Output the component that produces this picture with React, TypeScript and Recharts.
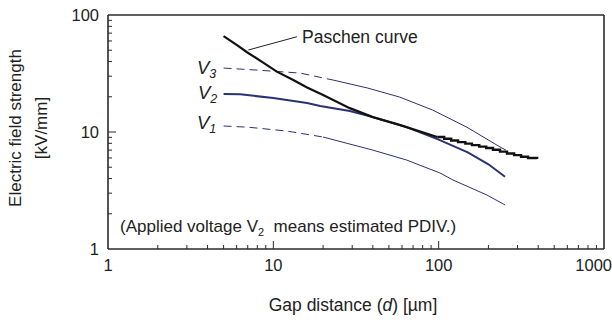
import { LineChart, Line, XAxis, YAxis, ReferenceLine } from "recharts";

// gap distance d [um] vs electric field strength E [kV/mm]
const paschen = [
  { d: 5, e: 66 },
  { d: 6, e: 55.5 },
  { d: 6.9, e: 48.3 },
  { d: 8.5, e: 40 },
  { d: 10.5, e: 32.8 },
  { d: 13.2, e: 27.8 },
  { d: 16, e: 24 },
  { d: 20, e: 20.7 },
  { d: 29, e: 16 },
  { d: 40, e: 13.4 },
  { d: 58, e: 11.5 },
  { d: 98, e: 9.06 },
];
const paschenSteps = [
  { d: 98, e: 9.06 },
  { d: 108, e: 8.75 },
  { d: 119, e: 8.45 },
  { d: 131, e: 8.2 },
  { d: 145, e: 7.95 },
  { d: 159, e: 7.72 },
  { d: 176, e: 7.5 },
  { d: 194, e: 7.3 },
  { d: 213, e: 7.05 },
  { d: 235, e: 6.8 },
  { d: 259, e: 6.55 },
  { d: 286, e: 6.35 },
  { d: 315, e: 6.15 },
  { d: 347, e: 6.0 },
  { d: 394, e: 5.88 },
];

const v3Dashed = [
  { d: 5, e: 35.2 },
  { d: 8, e: 33.8 },
  { d: 14.5, e: 31.9 },
  { d: 23, e: 27.8 },
];
const v3Solid = [
  { d: 23, e: 27.8 },
  { d: 37, e: 23.8 },
  { d: 58, e: 19.9 },
  { d: 92, e: 15.4 },
  { d: 148, e: 11 },
  { d: 235, e: 7.45 },
  { d: 255, e: 7.0 },
];

const v2 = [
  { d: 5, e: 21.1 },
  { d: 6.3, e: 21 },
  { d: 10, e: 19.5 },
  { d: 16, e: 17.7 },
  { d: 19.2, e: 16.7 },
  { d: 29, e: 15.1 },
  { d: 40, e: 13.4 },
  { d: 64, e: 11 },
  { d: 100, e: 8.6 },
  { d: 150, e: 6.7 },
  { d: 200, e: 5.3 },
  { d: 252, e: 4.15 },
];

const v1Dashed = [
  { d: 5, e: 11.25 },
  { d: 7, e: 11 },
  { d: 12, e: 10.2 },
  { d: 20, e: 9.06 },
];
const v1Solid = [
  { d: 20, e: 9.06 },
  { d: 40, e: 7.0 },
  { d: 64, e: 5.76 },
  { d: 77, e: 5.2 },
  { d: 102, e: 4.46 },
  { d: 122, e: 3.89 },
  { d: 196, e: 2.89 },
  { d: 252, e: 2.38 },
];

const xTicks = [
  1, 2, 3, 4, 5, 6, 7, 8, 9, 10, 20, 30, 40, 50, 60, 70, 80, 90, 100, 200, 300,
  400, 500, 600, 700, 800, 900, 1000,
];
const yTicks = [
  1, 2, 3, 4, 5, 6, 7, 8, 9, 10, 20, 30, 40, 50, 60, 70, 80, 90, 100,
];
const majors = [1, 10, 100, 1000];

const leader = [
  { x: 7.06, y: 50.2 },
  { x: 13.9, y: 65.2 },
];

const AXIS = "#2a2a2a";
const NAVY = "#2b3272";
const FONT = "'Liberation Sans', Arial, Helvetica, sans-serif";

function XTick(props: any) {
  const { x, y, payload } = props;
  const v = payload.value;
  const major = majors.includes(v);
  return (
    <g>
      {v !== 1 && v !== 1000 && (
        <line x1={x} x2={x} y1={y} y2={y - (major ? 8 : 4)} stroke={AXIS} />
      )}
      {major && (
        <text
          x={v === 1000 ? x + 8 : x}
          y={y + 22}
          textAnchor={v === 1000 ? "end" : "middle"}
          fontSize={16.5}
          fontFamily={FONT}
          fill="#222"
        >
          {v}
        </text>
      )}
    </g>
  );
}

function YTick(props: any) {
  const { x, y, payload } = props;
  const v = payload.value;
  const major = majors.includes(v);
  return (
    <g>
      {v !== 1 && v !== 100 && (
        <line x1={x} x2={x + (major ? 8 : 4)} y1={y} y2={y} stroke={AXIS} />
      )}
      {major && (
        <text
          x={x - 9}
          y={y + 6}
          textAnchor="end"
          fontSize={16.5}
          fontFamily={FONT}
          fill="#222"
        >
          {v}
        </text>
      )}
    </g>
  );
}

export default function App() {
  return (
    <div
      style={{
        position: "absolute",
        left: 0,
        top: 0,
        width: 612,
        height: 320,
        background: "#fff",
      }}
    >
      <LineChart
        width={612}
        height={320}
        margin={{ top: 15, right: 8, bottom: 31, left: 48 }}
      >
        <XAxis
          dataKey="d"
          type="number"
          scale="log"
          domain={[1, 1000]}
          ticks={xTicks}
          interval={0}
          allowDataOverflow
          height={40}
          tickSize={0}
          tickMargin={0}
          tickLine={false}
          tick={<XTick />}
          axisLine={{ stroke: AXIS, strokeWidth: 1.6 }}
        />
        <YAxis
          type="number"
          scale="log"
          domain={[1, 100]}
          ticks={yTicks}
          interval={0}
          allowDataOverflow
          width={60}
          tickSize={0}
          tickMargin={0}
          tickLine={false}
          tick={<YTick />}
          axisLine={{ stroke: AXIS, strokeWidth: 1.6 }}
        />
        <ReferenceLine y={100} stroke={AXIS} strokeWidth={1.6} />
        <ReferenceLine x={1000} stroke={AXIS} strokeWidth={1.6} />
        <ReferenceLine segment={leader} stroke="#222" strokeWidth={1} />
        <Line
          data={v3Dashed}
          dataKey="e"
          stroke={NAVY}
          strokeWidth={1}
          strokeDasharray="8 5"
          dot={false}
          isAnimationActive={false}
        />
        <Line
          data={v3Solid}
          dataKey="e"
          stroke={NAVY}
          strokeWidth={1}
          dot={false}
          isAnimationActive={false}
        />
        <Line
          data={v1Dashed}
          dataKey="e"
          stroke={NAVY}
          strokeWidth={1}
          strokeDasharray="8 5"
          dot={false}
          isAnimationActive={false}
        />
        <Line
          data={v1Solid}
          dataKey="e"
          stroke={NAVY}
          strokeWidth={1}
          dot={false}
          isAnimationActive={false}
        />
        <Line
          data={v2}
          dataKey="e"
          stroke={NAVY}
          strokeWidth={2}
          dot={false}
          isAnimationActive={false}
        />
        <Line
          data={paschen}
          dataKey="e"
          stroke="#111"
          strokeWidth={2.2}
          dot={false}
          isAnimationActive={false}
        />
        <Line
          data={paschenSteps}
          dataKey="e"
          type="stepAfter"
          stroke="#111"
          strokeWidth={2.4}
          dot={false}
          isAnimationActive={false}
        />
      </LineChart>
      <svg
        width={612}
        height={320}
        style={{ position: "absolute", left: 0, top: 0, pointerEvents: "none" }}
        fontFamily={FONT}
        fill="#222"
      >
        <text x={302} y={43} fontSize={17.5}>
          Paschen curve
        </text>
        <text x={197} y={74} fontSize={18.5} fontStyle="italic">
          V<tspan fontSize={12.5} dy={4}>3</tspan>
        </text>
        <text x={198} y={99} fontSize={18.5} fontStyle="italic">
          V<tspan fontSize={12.5} dy={4}>2</tspan>
        </text>
        <text x={197} y={129} fontSize={18.5} fontStyle="italic">
          V<tspan fontSize={12.5} dy={4}>1</tspan>
        </text>
        <text x={120} y={232} fontSize={17}>
          (Applied voltage V<tspan fontSize={11} dy={4}>2</tspan>
          <tspan dy={-4}>{"\u00a0 means estimated PDIV.)"}</tspan>
        </text>
        <text x={353} y={311} fontSize={17.5} textAnchor="middle">
          Gap distance (<tspan fontStyle="italic">d</tspan>) [µm]
        </text>
        <text
          transform="translate(21,128) rotate(-90)"
          fontSize={17}
          textAnchor="middle"
        >
          Electric field strength
        </text>
        <text
          transform="translate(47,128) rotate(-90)"
          fontSize={17}
          textAnchor="middle"
        >
          [kV/mm]
        </text>
      </svg>
    </div>
  );
}
